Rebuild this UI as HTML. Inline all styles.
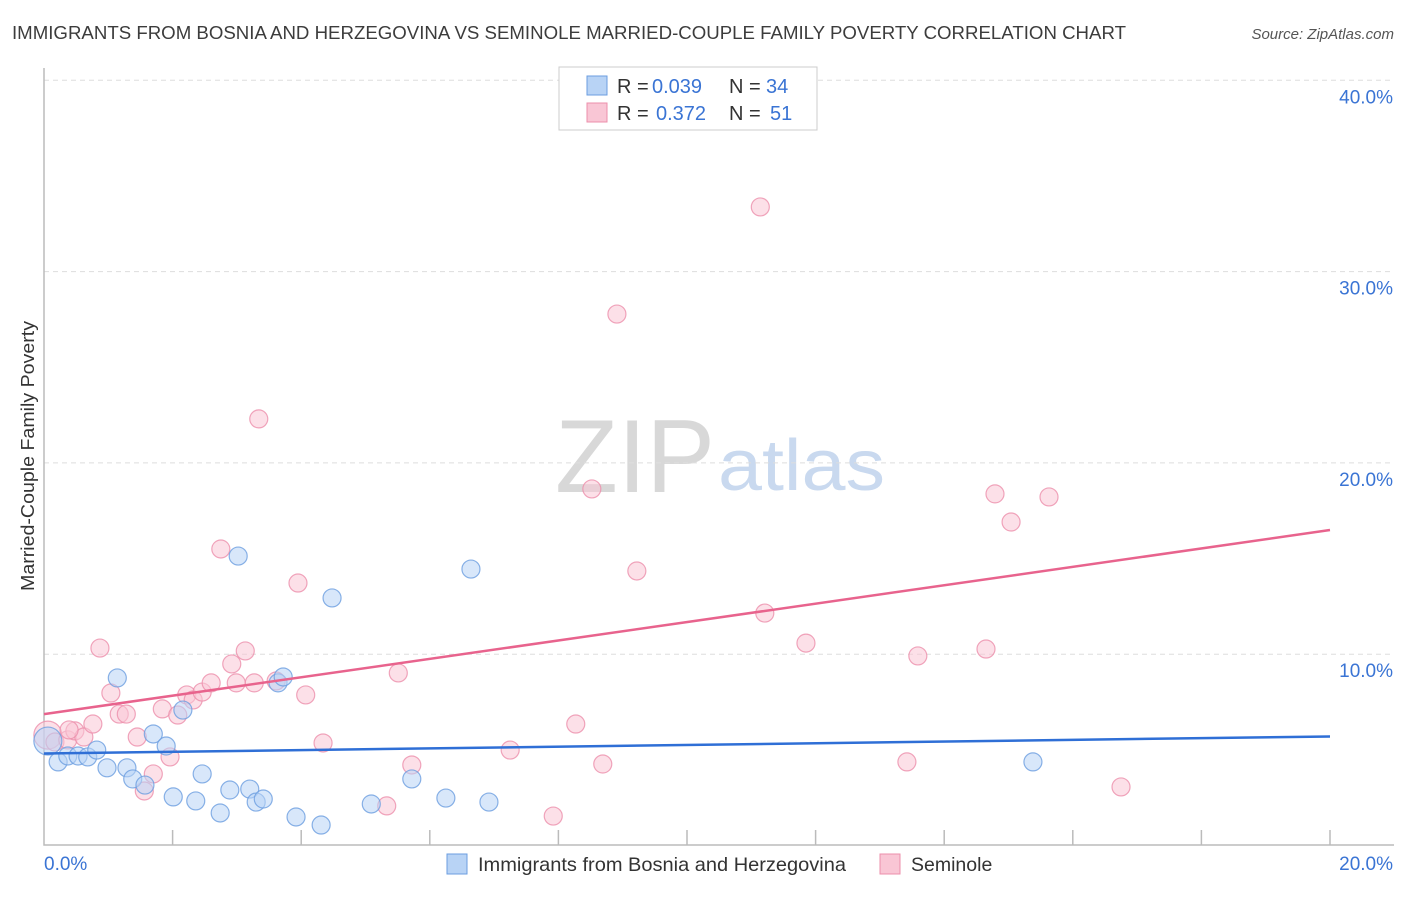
<!DOCTYPE html>
<html><head><meta charset="utf-8"><style>
body{margin:0;background:#fff;font-family:"Liberation Sans",sans-serif;}
svg text{font-family:"Liberation Sans",sans-serif;}
</style></head><body>
<svg id="chart" width="1406" height="892" viewBox="0 0 1406 892" xmlns="http://www.w3.org/2000/svg">
<text x="12" y="39" font-size="18" fill="#3c3c3c" textLength="1114" lengthAdjust="spacingAndGlyphs">IMMIGRANTS FROM BOSNIA AND HERZEGOVINA VS SEMINOLE MARRIED-COUPLE FAMILY POVERTY CORRELATION CHART</text>
<text x="1394" y="39" font-size="15" fill="#555" text-anchor="end" font-style="italic">Source: ZipAtlas.com</text>
<text x="715" y="492" font-size="104" text-anchor="end" fill="#d8d8d8" font-family="Liberation Serif, serif" textLength="160" lengthAdjust="spacingAndGlyphs">ZIP</text>
<text x="718" y="490" font-size="72" fill="#c9d9ef" textLength="167" lengthAdjust="spacingAndGlyphs">atlas</text>
<g id="grid"></g>
<g id="axes"></g>
<g id="marks"></g>
<text transform="translate(34,456) rotate(-90)" font-size="18.5" fill="#333" text-anchor="middle" textLength="270" lengthAdjust="spacingAndGlyphs">Married-Couple Family Poverty</text>
<g>
<rect x="559" y="67" width="258" height="63" fill="#fff" stroke="#ccc"/>
<rect x="587" y="76" width="20" height="19" fill="#b8d3f5" stroke="#6b9ee0"/>
<rect x="587" y="103" width="20" height="19" fill="#f9c6d5" stroke="#ec8fab"/>
<text x="617" y="93" font-size="20" fill="#333">R =</text>
<text x="652" y="93" font-size="20" fill="#3a74d4">0.039</text>
<text x="729" y="93" font-size="20" fill="#333">N =</text>
<text x="766" y="93" font-size="20" fill="#3a74d4">34</text>
<text x="617" y="120" font-size="20" fill="#333">R =</text>
<text x="656" y="120" font-size="20" fill="#3a74d4">0.372</text>
<text x="729" y="120" font-size="20" fill="#333">N =</text>
<text x="770" y="120" font-size="20" fill="#3a74d4">51</text>
</g>
<g>
<rect x="447" y="854" width="20" height="20" fill="#b8d3f5" stroke="#6b9ee0"/>
<text x="478" y="871" font-size="19.5" fill="#333" textLength="368" lengthAdjust="spacingAndGlyphs">Immigrants from Bosnia and Herzegovina</text>
<rect x="880" y="854" width="20" height="20" fill="#f9c6d5" stroke="#ec8fab"/>
<text x="911" y="871" font-size="19.5" fill="#333">Seminole</text>
</g>
</svg>
<script>
const xTicks=[0,20];
const yTicks=[10,20,30,40];
const blueX=[0.06,0.22,0.37,0.53,0.68,0.82,0.98,1.14,1.29,1.38,1.57,1.70,1.90,2.01,2.16,2.36,2.46,2.74,2.89,3.02,3.20,3.30,3.41,3.64,3.72,3.92,4.31,4.48,5.09,5.72,6.25,6.64,6.92,15.38];
const blueY=[5.46,4.37,4.68,4.68,4.63,4.99,4.06,8.76,4.06,3.48,3.16,5.83,5.20,2.54,7.08,2.33,3.74,1.70,2.90,15.13,2.95,2.27,2.43,8.50,8.81,1.49,1.07,12.94,2.17,3.48,2.48,14.45,2.27,4.37];
const pinkX=[0.06,0.17,0.37,0.48,0.62,0.76,0.87,1.04,1.17,1.28,1.45,1.56,1.70,1.84,1.96,2.08,2.22,2.32,2.46,2.60,2.75,2.92,2.99,3.13,3.27,3.34,3.61,3.95,4.07,4.34,5.33,5.51,5.72,7.25,7.92,8.27,8.52,8.69,8.91,9.22,11.14,11.21,11.85,13.42,13.59,14.65,14.79,15.04,15.63,16.75,0.39];
const pinkY=[5.77,5.41,5.52,5.99,5.67,6.35,10.32,7.97,6.87,6.87,5.67,2.85,3.74,7.14,4.63,6.82,7.87,7.61,8.02,8.50,15.50,9.49,8.50,10.17,8.50,22.30,8.60,13.72,7.87,5.36,2.07,9.02,4.21,4.99,1.54,6.35,18.64,4.26,27.78,14.35,33.38,12.15,10.58,4.37,9.91,10.27,18.38,16.91,18.22,3.06,6.04];
const blueTrend=[4.81,5.70];
const pinkTrend=[6.87,16.49];

const NS="http://www.w3.org/2000/svg";
const X0=44,X1=1330,Y0=845.5,PX10=191.3;
function sx(v){return X0+(v-xTicks[0])/(xTicks[1]-xTicks[0])*(X1-X0);}
function sy(v){return Y0-v/10*PX10;}
function mk(tag,attrs,parent){const e=document.createElementNS(NS,tag);for(const k in attrs)e.setAttribute(k,attrs[k]);parent.appendChild(e);return e;}
const grid=document.getElementById('grid'),axes=document.getElementById('axes'),marks=document.getElementById('marks');
yTicks.forEach(t=>{
  const l=mk('line',{x1:44,x2:1394,y1:sy(t),y2:sy(t),stroke:'#ddd','stroke-dasharray':'5,4'},grid);
  
  
  const tx=mk('text',{x:1393,y:sy(t)+23,'font-size':19,fill:'#3a74d4','text-anchor':'end'},axes);
  tx.textContent=t.toFixed(1)+'%';
  
  
});
const ax=mk('path',{d:'M44,68 V845 H1394',fill:'none',stroke:'#bbb','stroke-width':1.5},axes);


for(let i=1;i<=10;i++){
  const x=X0+i*(X1-X0)/10;
  const t=mk('line',{x1:x,x2:x,y1:830,y2:845,stroke:'#bbb','stroke-width':1.5},axes);
  
  
}
xTicks.forEach((t,i)=>{
  const tx=mk('text',{x:i?1393:44,y:870,'font-size':19,fill:'#3a74d4','text-anchor':i?'end':'start'},axes);
  tx.textContent=t.toFixed(1)+'%';
  
  
});
function dots(xs,ys,fill,stroke,name){
  xs.forEach((v,i)=>{
    const r=(i===0)?14:9;
    const c=mk('circle',{cx:sx(v),cy:sy(ys[i]),r:r,fill:fill,'fill-opacity':0.55,stroke:stroke,'stroke-width':1.2,'stroke-opacity':0.8},marks);
    
    
  });
}
dots(pinkX,pinkY,'#f9c6d5','#ec8fab','seminole-point');
dots(blueX,blueY,'#b8d3f5','#6b9ee0','bosnia-point');
const bl=mk('line',{x1:sx(0),y1:sy(blueTrend[0]),x2:sx(20),y2:sy(blueTrend[1]),stroke:'#2f6fd6','stroke-width':2.5},marks);


const pl=mk('line',{x1:sx(0),y1:sy(pinkTrend[0]),x2:sx(20),y2:sy(pinkTrend[1]),stroke:'#e8638d','stroke-width':2.5},marks);


</script>
</body></html>
